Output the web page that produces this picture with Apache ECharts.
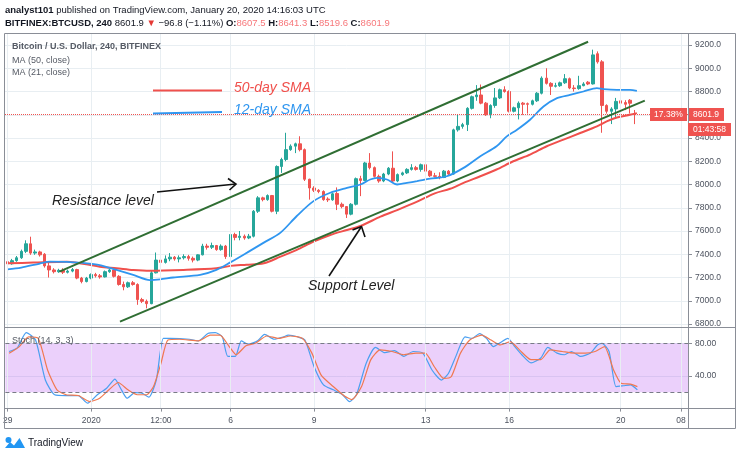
<!DOCTYPE html>
<html><head><meta charset="utf-8">
<script src="https://cdn.jsdelivr.net/npm/echarts@6.0.0/dist/echarts.min.js"></script>
<style>html,body{margin:0;padding:0;background:#fff}#c{width:740px;height:458px}</style>
</head><body><div id="c"></div>
<script>
// 4h candles, index 0 = Dec 29 00:00 ; [open, close, low, high]
const candles = [
[7336,7318,7300,7350],[7318,7345,7310,7360],[7345,7370,7335,7385],[7370,7425,7360,7440],[7425,7490,7410,7520],
[7490,7410,7395,7551],[7410,7420,7395,7440],[7420,7395,7380,7430],[7400,7300,7285,7410],[7300,7265,7200,7340],
[7265,7250,7235,7280],[7250,7262,7240,7275],[7262,7245,7230,7280],[7245,7255,7235,7268],[7255,7268,7245,7282],
[7268,7195,7185,7275],[7195,7165,7150,7205],[7165,7195,7158,7205],[7195,7225,7185,7235],[7225,7215,7200,7240],
[7215,7205,7190,7230],[7205,7250,7200,7260],[7250,7265,7240,7275],[7265,7210,7200,7270],[7210,7140,7130,7220],
[7140,7120,7090,7165],[7120,7155,7110,7165],[7155,7140,7130,7170],[7140,7010,6965,7150],[7010,6995,6980,7025],
[6995,6975,6935,7010],[6975,7240,6970,7260],[7240,7350,7235,7415],[7350,7330,7300,7400],[7330,7360,7320,7390],
[7360,7375,7340,7410],[7375,7360,7345,7385],[7360,7370,7330,7390],[7370,7380,7355,7400],[7380,7365,7345,7395],
[7365,7350,7330,7380],[7350,7395,7340,7400],[7395,7470,7390,7490],[7470,7460,7440,7490],[7460,7475,7445,7500],
[7475,7440,7430,7480],[7440,7470,7430,7485],[7470,7380,7360,7480],[7380,7570,7370,7600],[7570,7545,7520,7585],
[7545,7555,7520,7600],[7555,7540,7525,7570],[7540,7555,7530,7575],[7555,7770,7545,7780],[7770,7885,7755,7900],
[7885,7870,7855,7895],[7870,7905,7860,7915],[7905,7770,7760,7910],[7770,8155,7745,8165],[8155,8215,8100,8230],
[8215,8300,8200,8445],[8300,8330,8290,8345],[8330,8350,8270,8360],[8350,8300,8285,8415],[8300,8045,8030,8310],
[8045,7970,7870,8050],[7970,7950,7935,7985],[7950,7940,7925,7960],[7940,7870,7860,7950],[7875,7868,7850,7890],
[7868,7920,7860,7930],[7923,7830,7780,7975],[7830,7810,7795,7845],[7810,7745,7712,7815],[7745,7830,7735,7840],
[7830,8050,7820,8060],[8050,8035,7900,8075],[8035,8185,8030,8195],[8185,8145,8130,8270],[8145,8070,8060,8155],
[8070,8030,8015,8085],[8030,8090,8020,8100],[8090,8140,8080,8150],[8140,8030,8015,8285],[8030,8085,8020,8095],
[8085,8100,8075,8110],[8100,8130,8090,8140],[8130,8145,8120,8175],[8145,8130,8120,8160],[8130,8170,8110,8180],
[8170,8115,8105,8215],[8115,8075,8065,8125],[8075,8070,8060,8100],[8070,8060,8045,8105],[8060,8115,8055,8125],
[8115,8090,8080,8125],[8090,8470,8085,8480],[8470,8500,8455,8600],[8500,8515,8480,8530],[8515,8655,8460,8665],
[8655,8755,8645,8765],[8755,8770,8720,8855],[8770,8700,8690,8860],[8700,8600,8590,8710],[8600,8680,8570,8690],
[8680,8745,8660,8830],[8745,8815,8735,8825],[8815,8800,8790,8845],[8800,8630,8620,8810],[8630,8660,8620,8670],
[8660,8700,8560,8715],[8700,8690,8600,8710],[8695,8690,8610,8705],[8690,8720,8680,8730],[8720,8785,8710,8795],
[8785,8915,8775,8930],[8915,8870,8860,9000],[8870,8845,8770,8880],[8845,8850,8835,8875],[8850,8875,8840,8885],
[8875,8910,8865,8950],[8910,8830,8820,8920],[8830,8825,8800,8855],[8825,8850,8815,8935],[8850,8865,8845,8880],
[8880,8865,8855,8890],[8865,9115,8860,9160],[9125,9055,9040,9145],[9055,8680,8445,9070],[8680,8630,8610,8690],
[8630,8650,8520,8665],[8650,8715,8570,8745],[8720,8700,8650,8740],[8705,8690,8640,8725],[8725,8698.7,8610,8735],
[8607.5,8601.9,8519.6,8641.3]
];
const lastPrice = 8601.9;

// MA(50) red and MA(21) blue, read at candle positions
const ma50Idx = [0,5.6,12.8,19.9,23.5,27.1,30.7,37.9,45,48,51.5,55.2,58.8,62.3,65.9,69.5,73.1,76,80.3,83.9,88.2,92,95.3,98.2,101.8,105.3,108.9,112.5,116.1,119.7,123.3,126.9,129,131.2,134,135.5];
const ma50 = [7322,7328,7336,7293,7280,7265,7258,7265,7279,7300,7310,7322,7379,7437,7508,7566,7609,7643,7723,7780,7852,7924,7963,8014,8071,8129,8200,8257,8329,8386,8443,8500,8543,8577,8600,8614];
const ma21Idx = [0,3,7,9.2,12.8,16.4,19.9,23.5,27.1,30.7,32.9,35.7,41.5,45,48,51.6,55.2,58.8,62.3,65.9,69.5,73.1,76,78.1,79.6,81.7,83.9,86,88.2,91,94.6,98.2,101.8,105.3,107.5,109.7,112.5,115.4,118.3,121.1,124,126.9,128.3,131.2,134,135.5];
const ma21 = [7270,7285,7320,7336,7335,7325,7307,7265,7222,7178,7184,7200,7222,7265,7330,7414,7500,7586,7729,7857,7929,7971,8000,8043,8057,8043,8000,8014,8029,8050,8071,8143,8243,8329,8414,8471,8557,8671,8743,8771,8800,8829,8820,8814,8814,8806];

// Stochastic (14,3,3)
const kIdx = [0.3,2,4,6,8.1,10.1,12.6,15.2,17.2,19.3,21.3,23.1,24.3,25.7,27.4,28.9,30.4,32,33.5,35,39.1,41.1,43.1,44.7,46.2,47.4,49,50.3,51.8,53.8,55.3,57.4,59.4,60.4,62.4,64,66,68,70.1,72.1,73.6,75.1,77.2,79.2,81.2,83.3,85.3,87.3,89.4,91.4,93.4,94.9,96.5,98.5,100,101.6,103.1,104.6,106.1,107.7,109.2,110.7,112.7,114.8,116.3,118.3,119.9,121.4,123.4,125.5,127,128,129.5,131,132.6,134.1,135.6];
const kVal = [70,74,93,84,35,17,16,16,6.6,17,25,36,25,12.7,19.6,19,14,35,86,86,85,83,92,93,88,64,64,83,79,83,91,85,88,90,88,84,51,29,23,17,8.6,17,55.5,75,68.6,71,64,70,68,47,35,43,64,88,86,92,86,76,81,86,76,66,56,62,75,68,66,70,64,68,78,80,70,27,28,29,23];
const dIdx = [0.3,2.5,4.5,6.6,8.6,10.6,12.6,15.2,17.7,19.8,21.8,23.8,25.9,27.9,29.9,31.4,33,34.5,37,41.1,43.6,45.7,47.7,49.2,51.3,53.3,55.8,58.4,60.9,63.5,65.5,67.5,70.1,72.6,74.1,76.2,78.2,80.2,82.8,85.3,87.9,89.9,91.9,93.9,95.5,97.5,99.5,102.1,104.1,106.1,108.2,110.2,112.7,114.8,116.8,119.4,121.9,124.4,126.5,128.5,130.5,132.1,134.1,135.6];
const dVal = [67.8,76,88,86,47,23,17,16,8.6,12.7,23,32,23,17,17,27,55.5,84,85,83,90,90,76,66,77,80,89,86,89,86,68,41,27,15,11,27,60,72,70,66,68,68,51,37,39,68,84,90,84,78,82,72,60,60,72,70,68,68,70,76,47,31,30,27];

// Trend channel lines [candle index, price]
const resistLine = [[11.2,7250],[125.0,9228]];
const supportLine = [[24.25,6820],[137.2,8721]];

// time axis labels
const xLabelIdx = [0,18,33,48,66,90,108,132,145];
const xLabels = ['29','2020','12:00','6','9','13','16','20','08'];
const priceMin = 6800, priceMax = 9200, priceStep = 200;
const stochLevels = [80,20];

const N = 147;
const cats = Array.from({length:N},(_,i)=>{const j=xLabelIdx.indexOf(i);return j>=0?xLabels[j]:'';});
const zip = (a,b)=>a.map((x,i)=>[x,b[i]]);
const GREEN='#26a69a', RED='#ef5350', GRID='#e8eef2', FR='#8a8e97', TXT='#4c525e';
const F = 'Liberation Sans, Arial, sans-serif';

const chart = echarts.init(document.getElementById('c'), null, {renderer:'canvas'});
const txt = (x,y,text,font,fill,align)=>({type:'text',silent:true,z:100,style:{x,y,text,font,fill,align:align||'left',verticalAlign:'middle',textAlign:align||'left',textVerticalAlign:'middle'}});
const line = (pts,stroke,w)=>({type:'polyline',silent:true,z:100,shape:{points:pts},style:{stroke,lineWidth:w,fill:null}});

chart.setOption({
  animation:false,
  backgroundColor:'#fff',
  grid:[
    {left:5,right:52,top:45,height:279},
    {left:5,right:52,top:327,height:81.6},
    {left:5,right:52,top:33,height:375}
  ],
  xAxis:[
    {type:'category',gridIndex:0,data:cats,boundaryGap:true,axisLine:{show:false,onZero:false},axisTick:{show:false},axisLabel:{show:false},splitLine:{show:false}},
    {type:'value',gridIndex:0,min:-0.5,max:N-0.5,show:false,axisLine:{onZero:false}},
    {type:'category',gridIndex:1,data:cats,boundaryGap:true,axisLine:{show:false,onZero:false},
      axisTick:{show:true,alignWithLabel:true,length:3,interval:(i)=>xLabelIdx.includes(i),lineStyle:{color:FR}},
      axisLabel:{show:true,interval:(i)=>xLabelIdx.includes(i),color:TXT,fontSize:8.5,fontFamily:F,margin:8},splitLine:{show:false}},
    {type:'value',gridIndex:1,min:-0.5,max:N-0.5,show:false,axisLine:{onZero:false}},
    {type:'value',gridIndex:2,min:-0.5,max:N-0.5,show:false,axisLine:{onZero:false}}
  ],
  yAxis:[
    {type:'value',gridIndex:0,position:'right',min:priceMin,max:priceMax,interval:priceStep,
      axisLine:{show:true,onZero:false,lineStyle:{color:FR,width:1}},axisTick:{show:true,inside:false,length:4,lineStyle:{color:FR,width:1}},
      axisLabel:{color:TXT,fontSize:8.5,fontFamily:F,margin:7,formatter:v=>v.toFixed(1)},
      splitLine:{show:true,lineStyle:{color:GRID,width:1}}},
    {type:'value',gridIndex:1,position:'right',min:0,max:100,interval:40,
      axisLine:{show:true,onZero:false,lineStyle:{color:FR,width:1}},axisTick:{show:true,inside:false,length:4,lineStyle:{color:FR,width:1}},
      axisLabel:{color:TXT,fontSize:8.5,fontFamily:F,margin:7,formatter:v=>(v===40||v===80)?v.toFixed(2):''},
      splitLine:{show:true,lineStyle:{color:GRID,width:1}}},
    {type:'value',gridIndex:2,min:0,max:1,show:false,axisLine:{onZero:false}}
  ],
  series:[
    {type:'line',xAxisIndex:4,yAxisIndex:2,data:[],z:1,silent:true,
      markLine:{silent:true,symbol:'none',label:{show:false},lineStyle:{color:GRID,type:'solid',width:1},
        data:xLabelIdx.map(i=>({xAxis:i}))}},
    {type:'candlestick',xAxisIndex:0,yAxisIndex:0,data:candles,barWidth:3,z:3,
      itemStyle:{color:GREEN,color0:RED,borderColor:GREEN,borderColor0:RED,borderWidth:1},
      markLine:{silent:true,symbol:'none',
        lineStyle:{color:RED,type:'dotted',width:1},
        label:{show:true,position:'end',distance:0,formatter:()=>lastPrice.toFixed(1),backgroundColor:RED,color:'#fff',fontSize:8.5,fontFamily:F,padding:[2,5,2,5]},
        data:[{yAxis:lastPrice}]}},
    {type:'line',xAxisIndex:1,yAxisIndex:0,data:zip(ma50Idx,ma50),smooth:0.3,showSymbol:false,z:4,lineStyle:{color:'#f0504c',width:2},silent:true},
    {type:'line',xAxisIndex:1,yAxisIndex:0,data:zip(ma21Idx,ma21),smooth:0.3,showSymbol:false,z:4,lineStyle:{color:'#2f96f0',width:1.8},silent:true},
    {type:'line',xAxisIndex:1,yAxisIndex:0,data:resistLine,showSymbol:false,clip:false,z:5,lineStyle:{color:'#2f6e33',width:2},silent:true},
    {type:'line',xAxisIndex:1,yAxisIndex:0,data:supportLine,showSymbol:false,clip:false,z:5,lineStyle:{color:'#2f6e33',width:2},silent:true},
    {type:'line',xAxisIndex:3,yAxisIndex:1,data:zip(kIdx,kVal),smooth:0.2,showSymbol:false,z:4,lineStyle:{color:'#4a9ff0',width:1.2},silent:true,
      markArea:{silent:true,itemStyle:{color:'rgba(170,60,240,0.24)'},data:[[{yAxis:stochLevels[1]},{yAxis:stochLevels[0]}]]},
      markLine:{silent:true,symbol:'none',label:{show:false},lineStyle:{color:'#787b86',type:[4,3],width:1},data:stochLevels.map(v=>({yAxis:v}))}},
    {type:'line',xAxisIndex:3,yAxisIndex:1,data:zip(dIdx,dVal),smooth:0.2,showSymbol:false,z:4,lineStyle:{color:'#f07850',width:1.2},silent:true}
  ],
  graphic:[
    // frame
    {type:'rect',silent:true,z:90,shape:{x:4.5,y:33.5,width:731,height:395},style:{fill:null,stroke:FR,lineWidth:1}},
    line([[4.5,327.5],[735.5,327.5]],FR,1),
    line([[4.5,408.5],[735.5,408.5]],FR,1),
    line([[688.5,33.5],[688.5,428.5]],FR,1),
    // header
    {type:'text',silent:true,z:100,style:{x:5,y:10,verticalAlign:'middle',textVerticalAlign:'middle',font:'9.5px '+F,fill:'#131722',
      text:'{b|analyst101} published on TradingView.com, January 20, 2020 14:16:03 UTC',
      rich:{b:{fontWeight:'bold',fontSize:9.5,fontFamily:F,fill:'#131722'}}}},
    {type:'text',silent:true,z:100,style:{x:5,y:23,verticalAlign:'middle',textVerticalAlign:'middle',font:'9.5px '+F,fill:'#131722',
      text:'{b|BITFINEX:BTCUSD, 240} 8601.9 {r|▼} −96.8 (−1.11%) {b|O:}{v|8607.5} {b|H:}{v|8641.3} {b|L:}{v|8519.6} {b|C:}{v|8601.9}',
      rich:{b:{fontWeight:'bold',fontSize:9.5,fontFamily:F,fill:'#131722'},r:{fill:'#e53935',fontSize:9.5,fontFamily:F},v:{fill:'#f7777a',fontSize:9.5,fontFamily:F}}}},
    txt(12,47,'Bitcoin / U.S. Dollar, 240, BITFINEX','bold 9px '+F,'#555a64'),
    txt(12,61,'MA (50, close)','9px '+F,'#555a64'),
    txt(12,73,'MA (21, close)','9px '+F,'#555a64'),
    txt(12,341,'Stoch (14, 3, 3)','9px '+F,'#555a64'),
    // SMA legend annotations
    line([[153,90.5],[222,90.5]],'#f0504c',2),
    txt(234,88,'50-day SMA','italic 14px '+F,'#f0504c'),
    line([[153,113.5],[222,112]],'#2f96f0',2),
    txt(234,110,'12-day SMA','italic 14px '+F,'#2f96f0'),
    // Resistance annotation
    txt(52,201,'Resistance level','italic 14px '+F,'#222'),
    line([[157,192],[236,184]],'#111',1.6),
    line([[228,178.5],[236,184],[229.5,190]],'#111',1.6),
    // Support annotation
    txt(308,286,'Support Level','italic 14px '+F,'#222'),
    line([[329,276],[361.5,226.5]],'#111',1.6),
    line([[352.5,230],[361.5,226.5],[365,237]],'#111',1.6),
    // price tags
    {type:'rect',silent:true,z:100,shape:{x:650,y:108,width:37,height:13},style:{fill:RED}},
    txt(668.5,114.5,'17.38%','8.5px '+F,'#fff','center'),
    {type:'rect',silent:true,z:100,shape:{x:688,y:123,width:43,height:13},style:{fill:RED}},
    txt(709.5,129.5,'01:43:58','8.5px '+F,'#fff','center'),
    // TradingView logo
    {type:'circle',silent:true,z:100,shape:{cx:8.5,cy:440,r:3},style:{fill:'#2196f3'}},
    {type:'polygon',silent:true,z:100,shape:{points:[[5,448],[10,442],[14,445.5],[19.5,438],[25,448]]},style:{fill:'#2196f3'}},
    txt(28,443,'TradingView','10px '+F,'#131722')
  ]
});
</script>
</body></html>
